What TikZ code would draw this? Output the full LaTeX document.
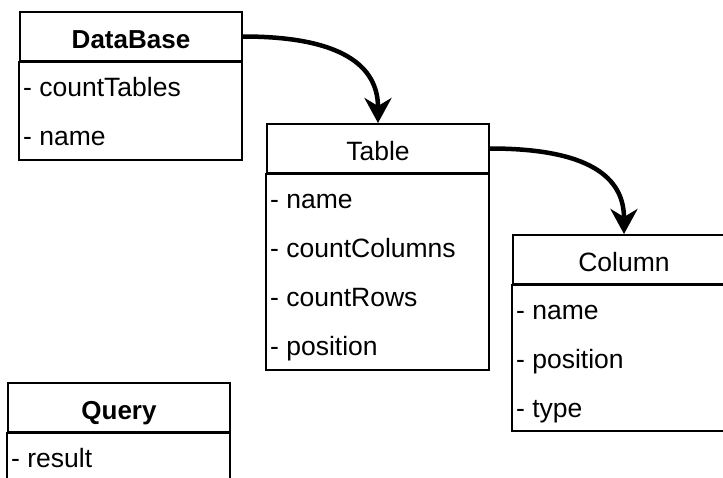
\documentclass[tikz,border=0pt]{standalone}
\usepackage{fontspec}
\setmainfont{Liberation Sans}
\usetikzlibrary{positioning}
\usetikzlibrary{arrows.meta}
\tikzset{hd/.style={rectangle,draw,line width=2pt,minimum width=222pt,minimum height=49pt,inner sep=0pt,text height=25pt,text depth=2pt}}
\tikzset{fld/.style={anchor=base west,inner sep=0pt}}
\tikzset{arr/.style={line width=4.5pt,-{Stealth[length=25pt,width=27pt,inset=8pt]}}}

\begin{document}
\begin{tikzpicture}[x=1pt,y=-1pt,font=\fontsize{26.5}{30}\selectfont]
	\useasboundingbox (0,0) rectangle (723,477);
	\clip (0,0) rectangle (723,477);

	\def\w{222};
	\def\h{49};
	\def\r{49};

	% headers
	\node[hd,font=\fontsize{26}{30}\selectfont\bfseries] (db) at (20+\w/2, 12+\h/2) {DataBase};
	\node[hd] (tbl) at (267+\w/2, 124+\h/2) {Table};
	\node[hd] (col) at (513+\w/2, 235+\h/2) {Column};
	\node[hd,font=\fontsize{26}{30}\selectfont\bfseries] (qry) at (8+\w/2, 383+\h/2) {Query};

	% bodies
	\foreach \name/\x/\b in {db/20/160, tbl/267/370, col/513/431, qry/8/520} {
		\draw[line width=2pt] (\name.south west) rectangle (\x+\w, \b);
	}

	% fields
	\foreach \t [count=\k] in {countTables, name}
		\node[fld] (db\k) at (23, 12+\h+35+\k*\r-\r) {- \t};
	\foreach \t [count=\k] in {name, countColumns, countRows, position}
		\node[fld] (tbl\k) at (270, 124+\h+35+\k*\r-\r) {- \t};
	\foreach \t [count=\k] in {name, position, type}
		\node[fld] (col\k) at (516, 235+\h+35+\k*\r-\r) {- \t};
	\node[fld] (qry1) at (11, 383+\h+35) {- result};

	\draw[arr] (db.east) .. controls +(110,0) and +(0,-50) .. (tbl.north);
	\draw[arr] (tbl.east) .. controls +(110,0) and +(0,-50) .. (col.north);
\end{tikzpicture}
\end{document}
